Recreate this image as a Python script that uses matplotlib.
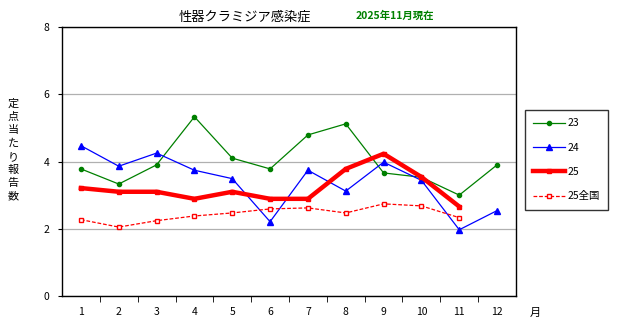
import matplotlib.pyplot as plt

plt.rcParams["font.family"] = ["Noto Sans CJK JP", "DejaVu Sans"]

months = [1, 2, 3, 4, 5, 6, 7, 8, 9, 10, 11, 12]
y23 = [3.78, 3.33, 3.90, 5.33, 4.10, 3.78, 4.79, 5.12, 3.66, 3.53, 3.00, 3.90]
y24 = [4.47, 3.86, 4.25, 3.74, 3.49, 2.21, 3.74, 3.12, 3.98, 3.44, 1.97, 2.54]
y25 = [3.21, 3.10, 3.10, 2.89, 3.10, 2.89, 2.89, 3.78, 4.23, 3.54, 2.66]
y25_nat = [2.27, 2.05, 2.24, 2.38, 2.47, 2.59, 2.62, 2.47, 2.74, 2.68, 2.33]

fig = plt.figure(figsize=(6.17, 3.28), dpi=100)
ax = fig.add_axes([62 / 617, 32 / 328, 454 / 617, 269 / 328])

ax.plot(months, y23, color="#008000", lw=0.9, marker="o", ms=3, label="23")
ax.plot(months, y24, color="#0000ff", lw=0.9, marker="^", ms=4.5, label="24")
ax.plot(months[:11], y25, color="#ff0000", lw=3.2, marker="s", ms=3, label="25")
ax.plot(months[:11], y25_nat, color="#ff0000", lw=0.9, ls=(0, (3, 1.5)), marker="s",
        ms=3.5, mfc="white", mec="#ff0000", mew=1, label="25全国")

ax.set_xlim(0.5, 12.5)
ax.set_ylim(0, 8)
ax.set_yticks([0, 2, 4, 6, 8])
ax.set_xticks(months)
ax.set_xticks([m + 0.5 for m in months[:-1]], minor=True)
ax.tick_params(axis="x", which="major", length=0, labelsize=7.5, pad=8)
ax.tick_params(axis="x", which="minor", length=4, direction="out")
ax.tick_params(axis="y", length=3, labelsize=7.5, pad=6)
ax.grid(axis="y", color="#b0b0b0", lw=0.9)
for s in ax.spines.values():
    s.set_linewidth(1)

fig.text(245 / 617, 1 - 17 / 328, "性器クラミジア感染症", ha="center", va="center", fontsize=9.5)
fig.text(395 / 617, 1 - 16 / 328, "2025年11月現在", ha="center", va="center",
         fontsize=7.5, color="#008000", fontweight="bold")
fig.text(13 / 617, 1 - 150 / 328, "定\n点\n当\nた\nり\n報\n告\n数", ha="center",
         va="center", fontsize=8, linespacing=1.4)
fig.text(535 / 617, 1 - 313 / 328, "月", ha="center", va="center", fontsize=8)

leg = fig.legend(loc="upper left", bbox_to_anchor=(525 / 617, 1 - 110 / 328), fontsize=7.5,
                 frameon=True, fancybox=False, edgecolor="black", labelspacing=1.38,
                 handlelength=3.0, borderpad=0.8, handletextpad=0.25, borderaxespad=0)
leg.get_frame().set_linewidth(1)

fig.savefig("out.png", dpi=100)
